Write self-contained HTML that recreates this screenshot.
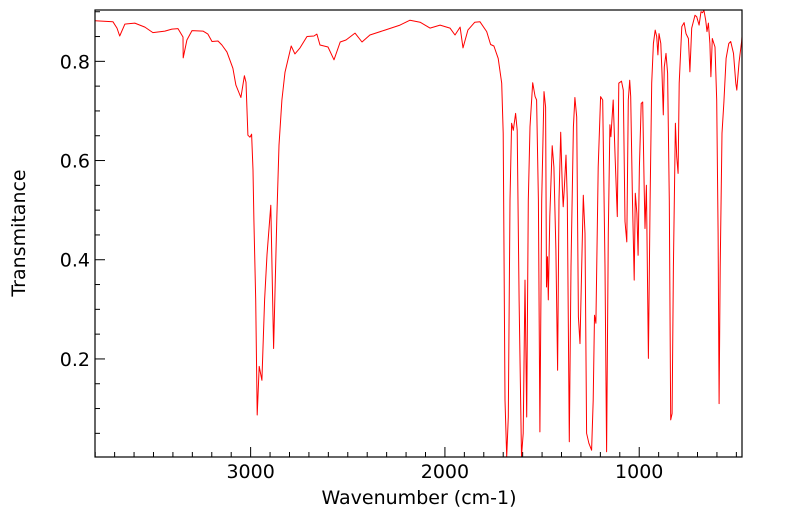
<!DOCTYPE html>
<html><head><meta charset="utf-8"><style>
body{margin:0;background:#fff;}
svg{display:block;font-family:"DejaVu Sans","Liberation Sans",sans-serif;}
</style></head><body>
<svg id="chart" width="799" height="516" viewBox="0 0 799 516" xmlns="http://www.w3.org/2000/svg">
<rect x="0" y="0" width="799" height="516" fill="#fff"/>
<g id="ticks"></g>
<path id="line" fill="none" stroke="#ff0000" stroke-width="1" stroke-linejoin="round"/>
<rect x="95" y="10" width="647" height="447" fill="none" stroke="#000" stroke-width="1.2"/>
<text x="419" y="504" font-size="19" text-anchor="middle">Wavenumber (cm-1)</text>
<text x="0" y="0" font-size="19" text-anchor="middle" transform="translate(25,233) rotate(-90)">Transmitance</text>
</svg>
<script>
const wavenumbers=[3801,3709,3688,3674,3647,3596,3544,3503,3441,3405,3374,3348,3347,3328,3302,3245,3220,3199,3168,3148,3122,3107,3091,3076,3050,3032,3024,3014,3004,2995,2988,2983,2974,2966,2956,2942,2928,2916,2896,2882,2865,2854,2839,2823,2791,2772,2746,2710,2674,2659,2643,2602,2571,2539,2509,2463,2427,2386,2309,2231,2180,2128,2077,2025,1974,1948,1922,1907,1882,1846,
1820,1785,1765,1748,1726,1708,1700,1691,1682,1674,1665,1657,1648,1636,1628,1618,1606,1597,1588,1579,1571,1562,1548,1536,1528,1519,1511,1502,1490,1482,1477,1472,1468,1460,1448,1439,1429,1420,1413,1404,1396,1391,1386,1377,1370,1360,1351,1339,1331,1322,1313,1305,1296,1288,1279,1271,1259,1245,1237,1230,1223,1211,1199,1188,1176,1168,1159,1151,1146,1134,1124,1113,1105,1091,1082,1073,1064,1056,1049,1044,1035,1026,1020,1012,1006,999,990,982,975,970,963,953,944,936,927,918,910,904,898,889,883,876,871,862,854,845,838,831,824,814,807,800,794,781,769,759,747,739,730,713,704,692,682,674,667,658,651,644,636,631,624,610,601,594,589,583,574,564,553,539,529,515,503,498,486,473,464];
const transmittance=[0.882,0.880,0.867,0.851,0.875,0.877,0.869,0.858,0.861,0.865,0.866,0.849,0.807,0.843,0.862,0.861,0.855,0.840,0.841,0.833,0.819,0.803,0.786,0.752,0.727,0.771,0.758,0.651,0.647,0.653,0.581,0.480,0.319,0.087,0.185,0.157,0.319,0.410,0.510,0.221,0.490,0.631,0.722,0.778,0.831,0.815,0.827,0.850,0.851,0.855,0.833,0.829,0.803,0.839,0.843,0.857,0.839,0.853,0.863,0.873,0.883,0.879,0.867,0.873,0.867,0.853,0.869,0.827,0.863,0.879,
0.880,0.860,0.834,0.831,0.806,0.756,0.655,0.117,0.003,0.083,0.520,0.675,0.661,0.695,0.661,0.319,0.003,0.050,0.359,0.083,0.520,0.668,0.757,0.729,0.722,0.520,0.053,0.520,0.739,0.708,0.345,0.406,0.319,0.487,0.630,0.587,0.419,0.177,0.520,0.657,0.547,0.507,0.540,0.611,0.520,0.033,0.386,0.668,0.727,0.688,0.285,0.231,0.386,0.530,0.453,0.050,0.030,0.016,0.117,0.288,0.272,0.587,0.729,0.722,0.386,0.013,0.453,0.672,0.648,0.722,0.608,0.487,0.756,0.760,0.742,0.477,0.436,0.722,0.762,0.729,0.527,0.359,0.534,0.493,0.409,0.587,0.715,0.718,0.554,0.463,0.550,0.201,0.520,0.756,0.836,0.863,0.850,0.813,0.856,0.836,0.776,0.692,0.789,0.816,0.776,0.520,0.077,0.090,0.386,0.675,0.608,0.574,0.756,0.870,0.878,0.856,0.846,0.779,0.867,0.893,0.890,0.873,0.900,0.898,0.903,0.883,0.860,0.877,0.836,0.769,0.846,0.829,0.722,0.453,0.110,0.386,0.655,0.718,0.806,0.836,0.840,0.816,0.756,0.742,0.799,0.840,0.850];
const xMajorTicks=[1000,2000,3000];
const xTickLabels=["1000","2000","3000"];
const yMajorTicks=[0.2,0.4,0.6,0.8];
const yTickLabels=["0.2","0.4","0.6","0.8"];

const X0=95,X1=742,Y0=10,Y1=457;
const WN_MAX=3801,WN_MIN=471,T_MIN=0.0023,T_MAX=0.9035;
function xs(w){return X0+(WN_MAX-w)/(WN_MAX-WN_MIN)*(X1-X0);}
function ys(t){return Y1-(t-T_MIN)/(T_MAX-T_MIN)*(Y1-Y0);}
const NS="http://www.w3.org/2000/svg";
const svg=document.getElementById('chart');
const g=document.getElementById('ticks');
let d="";
for(let i=0;i<wavenumbers.length;i++){
  const px=Math.max(X0,Math.min(X1,xs(wavenumbers[i])));
  d+=(i?"L":"M")+px.toFixed(1)+","+ys(transmittance[i]).toFixed(1);
}
document.getElementById('line').setAttribute('d',d);
function ln(x1,y1,x2,y2,name){
  const l=document.createElementNS(NS,'line');
  l.setAttribute('x1',x1);l.setAttribute('y1',y1);l.setAttribute('x2',x2);l.setAttribute('y2',y2);
  l.setAttribute('stroke','#000');l.setAttribute('stroke-width','1');
  
  
  g.appendChild(l);
}
for(let w=500;w<=3800;w+=100){
  const x=xs(w);if(x<X0||x>X1)continue;
  const major=w%1000===0;
  ln(x,Y1,x,Y1-(major?10:5),'x-tick');
}
for(let k=1;k<=18;k++){
  const t=k*0.05;const y=ys(t);if(y<Y0)continue;
  const major=(k%4===0);
  ln(X0,y,X0+(major?10:5),y,'y-tick');
}
xMajorTicks.forEach((w,i)=>{
  const t=document.createElementNS(NS,'text');
  t.setAttribute('x',xs(w));t.setAttribute('y',Y1+21);
  t.setAttribute('font-size','19');t.setAttribute('text-anchor','middle');
  t.textContent=xTickLabels[i];
  
  
  svg.appendChild(t);
});
yMajorTicks.forEach((v,i)=>{
  const t=document.createElementNS(NS,'text');
  t.setAttribute('x',90);t.setAttribute('y',ys(v)+7);
  t.setAttribute('font-size','19');t.setAttribute('text-anchor','end');
  t.textContent=yTickLabels[i];
  
  
  svg.appendChild(t);
});
</script>
</body></html>
